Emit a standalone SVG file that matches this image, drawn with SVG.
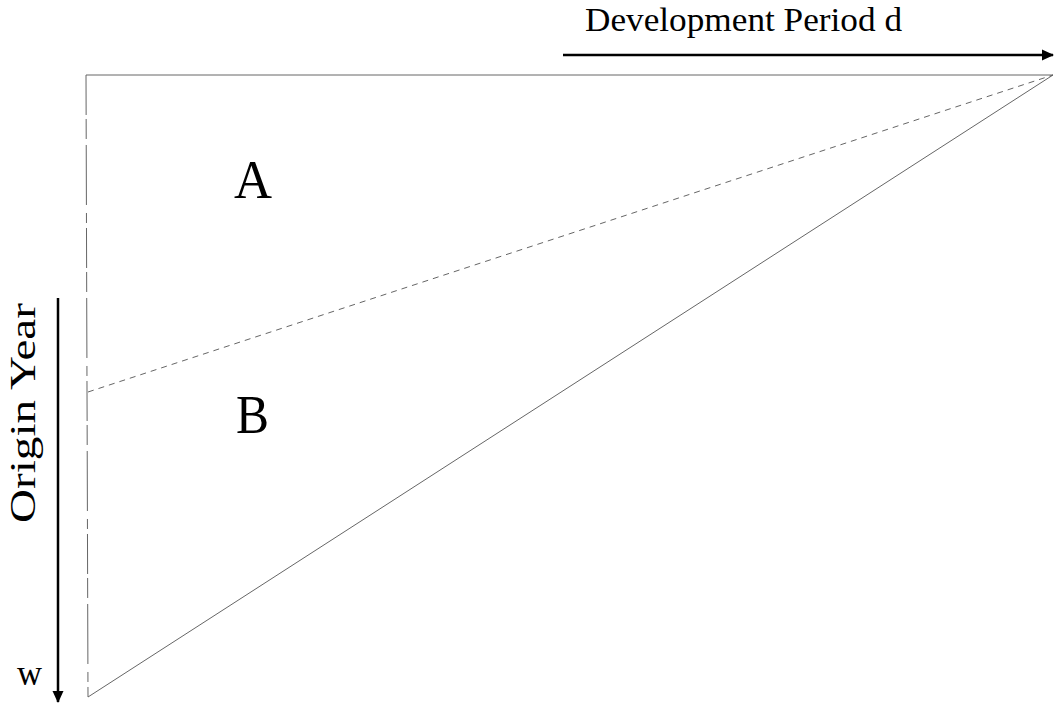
<svg xmlns="http://www.w3.org/2000/svg" width="1057" height="705" viewBox="0 0 1057 705">
<defs>
<marker id="ah" markerWidth="12" markerHeight="12" refX="11" refY="6" orient="auto" markerUnits="userSpaceOnUse"><path d="M0,0.5 L12,6 L0,11.5 Z" fill="#000"/></marker>
<style>
.t{font-family:"Liberation Serif",serif;fill:#000}
.edge{stroke:#666;stroke-width:1;fill:none}
.axis{stroke:#000;stroke-width:2.5;fill:none}
</style>
</defs>
<rect width="1057" height="705" fill="#fff"/>
<g id="triangle">
<line class="edge" x1="86" y1="75" x2="1053" y2="75"/>
<line class="edge" x1="86" y1="75" x2="88" y2="697" stroke="#aaa" stroke-dasharray="40,4,20,6,60,8,10,5"/>
<line class="edge" x1="88" y1="697" x2="1053" y2="75"/>
<line class="edge" x1="88" y1="392" x2="1053" y2="75" stroke-dasharray="6,5"/>
</g>
<g id="labels">
<text class="t" x="234" y="198" font-size="54" textLength="38" lengthAdjust="spacingAndGlyphs">A</text>
<text class="t" x="236" y="433" font-size="54" textLength="33" lengthAdjust="spacingAndGlyphs">B</text>
<text class="t" x="585" y="31" font-size="34" textLength="317" lengthAdjust="spacingAndGlyphs">Development Period d</text>
<text class="t" font-size="36" text-anchor="middle" transform="translate(35 413) rotate(-90)" textLength="220" lengthAdjust="spacingAndGlyphs">Origin Year</text>
<text class="t" x="17" y="685" font-size="36" textLength="25" lengthAdjust="spacingAndGlyphs">w</text>
</g>
<g id="connectors">
<line class="axis" x1="563" y1="55" x2="1053" y2="55" marker-end="url(#ah)"/>
<line class="axis" x1="58" y1="298" x2="58" y2="702" marker-end="url(#ah)"/>
</g>
</svg>
